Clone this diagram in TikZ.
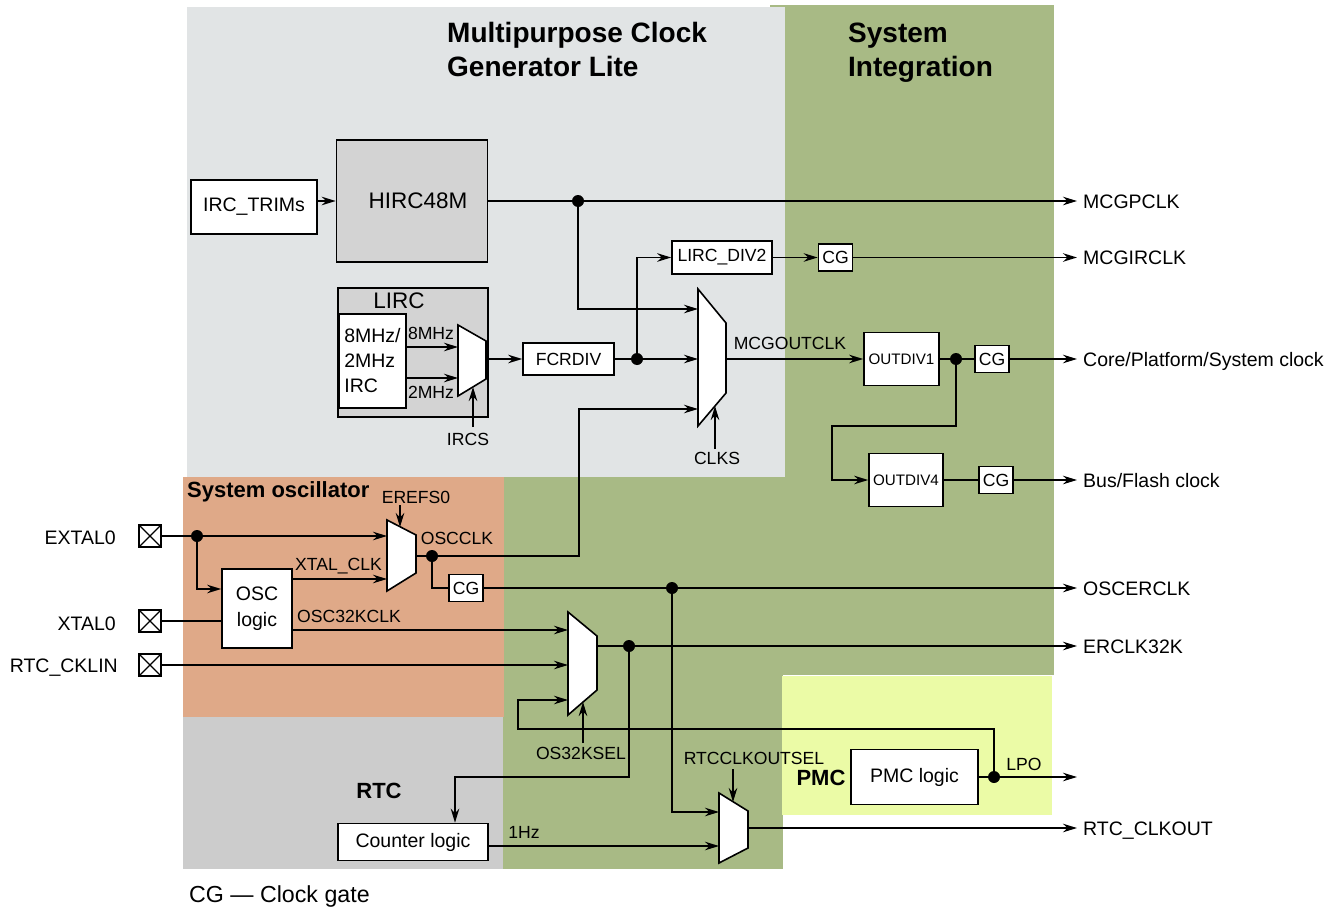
\documentclass[tikz,border=0pt]{standalone}
\usepackage{fontspec}
\setmainfont{Liberation Sans}
\usetikzlibrary{arrows.meta}
\definecolor{cGreen}{HTML}{A8BA85}
\definecolor{cGray}{HTML}{E1E4E5}
\definecolor{cOrange}{HTML}{DFA988}
\definecolor{cRtc}{HTML}{CCCCCC}
\definecolor{cYellow}{HTML}{EBFBA6}
\definecolor{cHirc}{HTML}{D3D3D3}
\newcommand\fA{\fontsize{19.5}{23}\selectfont}
\newcommand\fAl{\fontsize{19.5}{25}\selectfont}
\newcommand\fAo{\fontsize{19.5}{26}\selectfont}
\newcommand\fB{\fontsize{17.6}{21}\selectfont}
\newcommand\fC{\fontsize{15.2}{18}\selectfont}
\newcommand\fD{\fontsize{22.5}{26}\selectfont}
\newcommand\fT{\fontsize{28}{34}\selectfont\bfseries}
\newcommand\fS{\fontsize{22}{26}\selectfont\bfseries}
\begin{document}
\begin{tikzpicture}[x=1pt,y=-1pt,
  ln/.style={line width=1.7pt},
  arr/.style={ln,-{Stealth[length=14pt,width=8.5pt,inset=4.5pt]}},
  box/.style={draw,line width=1.6pt,fill=white,inner sep=0pt,font=\fA},
  cg/.style={box,minimum width=34pt,minimum height=27pt,font=\fB},
  dotc/.style={circle,fill=black,inner sep=0pt,minimum size=12pt},
  muxs/.style={draw,line width=1.6pt,fill=white,line join=miter},
  pinx/.style={draw,line width=1.4pt,fill=white,minimum size=22pt,inner sep=0pt,
    path picture={\draw[line width=1.4pt] (path picture bounding box.north west) -- (path picture bounding box.south east)
      (path picture bounding box.north east) -- (path picture bounding box.south west);}},
  lab/.style={inner sep=0pt,font=\fB,text height=12.6pt,text depth=0pt},
  outl/.style={anchor=west,inner sep=0pt,font=\fA,text height=14pt,text depth=0pt},
  inl/.style={anchor=east,inner sep=0pt,font=\fA,text height=14pt,text depth=0pt},
  sec/.style={inner sep=0pt,font=\fS,text height=16pt,text depth=0pt},
  outa/.style={arr,shorten >=6pt}
]
\useasboundingbox (0,0) rectangle (1336,907);
% backgrounds
\fill[cGreen] (770,5) rectangle (1054,675);
\fill[cGray] (187,7) rectangle (785,477);
\fill[cGreen] (503,477) rectangle (783,869);
\fill[cOrange] (183,477) rectangle (504,717);
\fill[cRtc] (183,717) rectangle (503,869);
\fill[cYellow] (782,676) rectangle (1052,815);
% titles
\node[anchor=base west,inner sep=0pt,font=\fT] (t1) at (447,43) {Multipurpose Clock};
\node[anchor=base west,inner sep=0pt,font=\fT] (t2) at (447,77) {Generator Lite};
\node[anchor=base west,inner sep=0pt,font=\fT] (t3) at (848,43) {System};
\node[anchor=base west,inner sep=0pt,font=\fT] (t4) at (848,77) {Integration};
\node[anchor=base west,inner sep=0pt,font=\fS] (t5) at (187,497) {System oscillator};
\node[sec] (t6) at (379,790) {RTC};
\node[sec] (t7) at (821,777) {PMC};
\node[anchor=base west,inner sep=0pt,font=\fontsize{23.2}{27}\selectfont] (t8) at (189,902) {CG — Clock gate};
% output labels
\node[outl] (oMCGP) at (1083,201) {MCGPCLK};
\node[outl] (oMCGI) at (1083,257.5) {MCGIRCLK};
\node[outl] (oCore) at (1083,359) {Core/Platform/System clock};
\node[outl] (oBus) at (1083,480) {Bus/Flash clock};
\node[outl] (oOSCER) at (1083,588) {OSCERCLK};
\node[outl] (oERC) at (1083,646) {ERCLK32K};
\node[outl] (oRTC) at (1083,828) {RTC\_CLKOUT};
\coordinate (oLPO) at (1077,777);
% input labels and pins
\node[inl] (lEX) at (116,537) {EXTAL0};
\node[inl] (lXT) at (116,623) {XTAL0};
\node[inl] (lRC) at (118,665) {RTC\_CKLIN};
\node[pinx] (p1) at (150,536) {};
\node[pinx] (p2) at (150,621) {};
\node[pinx] (p3) at (150,665) {};
% MCG blocks
\node[box,minimum width=126pt,minimum height=54pt] (trims) at (254,207) {IRC\_TRIMs};
\node[box,fill=cHirc,minimum width=151pt,minimum height=122pt,font=\fD] (hirc) at (412,201) {\hspace*{12pt}HIRC48M};
\node[box,fill=cHirc,minimum width=150pt,minimum height=129pt] (lirc) at (413,352.5) {};
\node[inner sep=0pt,font=\fD,text height=16pt,text depth=0pt] (lircl) at (399,300.5) {LIRC};
\node[box,minimum width=67pt,minimum height=94pt,align=left,font=\fAl] (irc) at (372.5,361) {8MHz/\\2MHz\\IRC};
\node[box,font=\fB,minimum width=91pt,minimum height=32pt] (fcr) at (568.5,359) {FCRDIV};
\node[box,font=\fB,minimum width=100pt,minimum height=33pt] (lircdiv) at (722,257.5) {LIRC\_DIV2};
\node[cg] (cg1) at (835.5,257.5) {CG};
\node[box,font=\fC,minimum width=75pt,minimum height=53pt] (od1) at (901.5,359) {OUTDIV1};
\node[cg] (cg2) at (992,359) {CG};
\node[box,font=\fC,minimum width=74pt,minimum height=53pt] (od4) at (906,480) {OUTDIV4};
\node[cg] (cg3) at (996,480) {CG};
% LIRC mux
\draw[muxs] (458,325) -- (486,341) -- (486,379) -- (458,396) -- cycle;
\coordinate (lm1) at (458,347);
\coordinate (lm2) at (458,378);
\coordinate (lmo) at (486,359);
\coordinate (lms) at (473,387);
\coordinate (ircsT) at (473,427);
\node[lab] (l8) at (431,333.5) {8MHz};
\node[lab] (l2) at (431,392) {2MHz};
\node[lab] (lIRCS) at (468,439) {IRCS};
% main mux
\draw[muxs] (698,289) -- (726,323) -- (726,393) -- (698,426) -- cycle;
\coordinate (m1a) at (698,309);
\coordinate (m1b) at (698,359);
\coordinate (m1c) at (698,409);
\coordinate (m1o) at (726,359);
\coordinate (m1s) at (715,406);
\coordinate (clksT) at (715,449);
\node[lab] (lCLKS) at (717,458) {CLKS};
\node[lab] (lMCGO) at (790,343.5) {MCGOUTCLK};
% oscillator
\node[box,minimum width=70pt,minimum height=79pt,align=center,font=\fAo] (osc) at (257,608.5) {OSC\\logic};
\draw[muxs] (387,520) -- (416,535) -- (416,573) -- (387,591) -- cycle;
\coordinate (om1) at (387,536);
\coordinate (om2) at (387,579);
\coordinate (omo) at (416,556);
\coordinate (oms) at (400,527);
\coordinate (erefT) at (400,505);
\node[lab] (lEREF) at (416,497.5) {EREFS0};
\node[lab] (lXTC) at (338.5,564) {XTAL\_CLK};
\node[lab] (lOSCC) at (457,538.5) {OSCCLK};
\node[lab] (lO32) at (349,616) {OSC32KCLK};
\node[cg] (cg4) at (466,588) {CG};
\coordinate (bend1) at (579,556);
% 32k mux
\draw[muxs] (568,612) -- (597,636) -- (597,690) -- (568,715) -- cycle;
\coordinate (xm1) at (568,630);
\coordinate (xm2) at (568,665);
\coordinate (xm3) at (568,700);
\coordinate (xmo) at (597,646);
\coordinate (xms) at (583,702);
\coordinate (oselT) at (583,743);
\node[lab] (lOSEL) at (581,753.5) {OS32KSEL};
% RTC
\node[box,minimum width=150pt,minimum height=37pt] (cnt) at (413,842) {Counter logic};
\coordinate (cntIn) at (455,777);
\draw[muxs] (719,793) -- (748,811) -- (748,848) -- (719,863) -- cycle;
\coordinate (rm1) at (719,812);
\coordinate (rm2) at (719,846);
\coordinate (rmo) at (748,828);
\coordinate (rms) at (733,802);
\coordinate (rselT) at (733,769);
\node[lab] (lRSEL) at (754,758) {RTCCLKOUTSEL};
\node[lab] (l1Hz) at (524,832) {1Hz};
% PMC
\node[box,minimum width=127pt,minimum height=55pt] (pmc) at (914.5,777) {PMC logic};
\node[lab] (lLPO) at (1024,764) {LPO};
\coordinate (lpoB) at (518,729);
% dots
\node[dotc] (d1) at (578,201) {};
\node[dotc] (d2) at (637,359) {};
\node[dotc] (d3) at (956,359) {};
\node[dotc] (d4) at (197,536) {};
\node[dotc] (d5) at (432,556) {};
\node[dotc] (d6) at (672,588) {};
\node[dotc] (d7) at (629,646) {};
\node[dotc] (d8) at (994,777) {};
% connectors: MCG
\draw[arr] (trims.east |- hirc.west) -- (hirc.west);
\draw[outa] (hirc.east) -- (oMCGP.west);
\draw[arr] (d1.center) |- (m1a);
\draw[arr] (irc.east |- lm1) -- (lm1);
\draw[arr] (irc.east |- lm2) -- (lm2);
\draw[arr] (ircsT) -- (lms);
\draw[arr] (lmo) -- (fcr.west);
\draw[arr] (fcr.east) -- (m1b);
\draw[arr] (d2.center) |- (lircdiv.west);
\draw[arr] (lircdiv.east) -- (cg1.west);
\draw[outa] (cg1.east) -- (oMCGI.west);
\draw[arr] (clksT) -- (m1s);
\draw[arr] (m1o) -- (od1.west);
\draw[ln] (od1.east) -- (cg2.west);
\draw[outa] (cg2.east) -- (oCore.west);
\draw[arr] (d3.center) |- (832,426) |- (od4.west);
\draw[ln] (od4.east) -- (cg3.west);
\draw[outa] (cg3.east) -- (oBus.west);
% connectors: oscillator
\draw[arr] (p1.east) -- (om1);
\draw[arr] (d4.center) |- ([yshift=19.5pt]osc.west);
\draw[ln] (p2.east) -- (p2.east -| osc.west);
\draw[arr] (osc.east |- om2) -- (om2);
\draw[arr] (erefT) -- (oms);
\draw[arr] (omo) -- (bend1) |- (m1c);
\draw[ln] (d5.center) |- (cg4.west);
\draw[outa] (cg4.east) -- (oOSCER.west);
\draw[arr] (osc.east |- xm1) -- (xm1);
\draw[arr] (p3.east) -- (xm2);
\draw[arr] (oselT) -- (xms);
\draw[outa] (xmo) -- (oERC.west);
\draw[arr] (d7.center) |- (cntIn) -- (cntIn |- cnt.north);
\draw[arr] (d6.center) |- (rm1);
\draw[arr] (cnt.east |- rm2) -- (rm2);
\draw[arr] (rselT) -- (rms);
\draw[outa] (rmo) -- (oRTC.west);
\draw[arr] (pmc.east) -- (oLPO);
\draw[arr] (d8.center) |- (lpoB) |- (xm3);
\end{tikzpicture}
\end{document}
